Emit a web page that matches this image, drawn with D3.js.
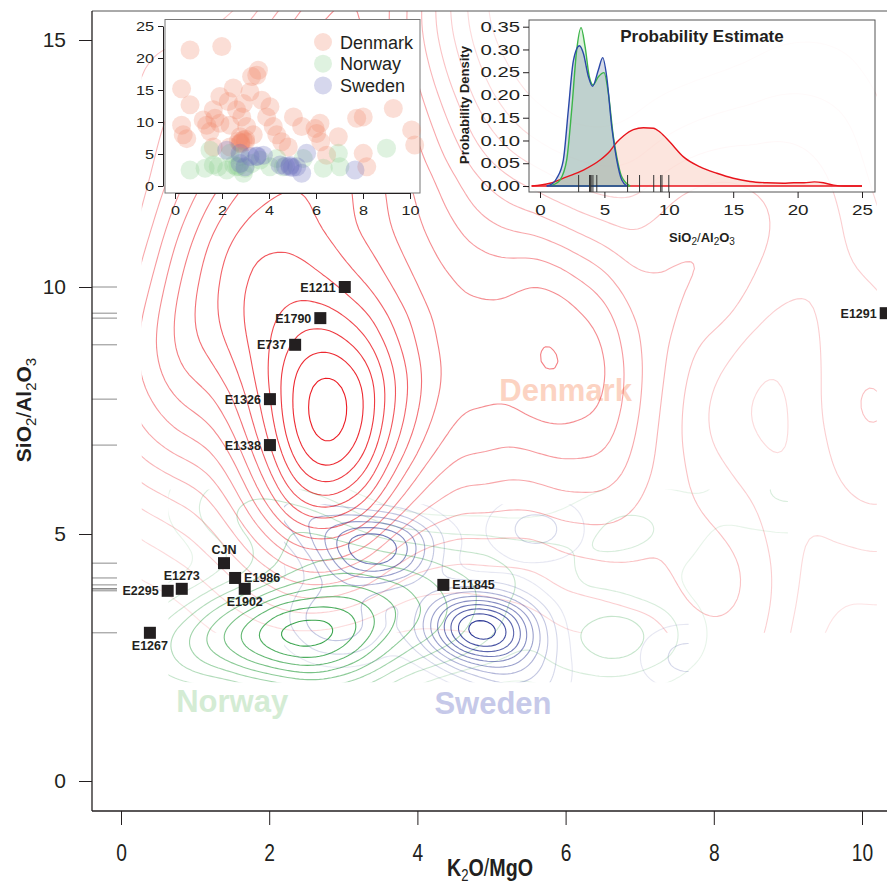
<!DOCTYPE html>
<html>
<head>
<meta charset="utf-8">
<script src="https://cdn.jsdelivr.net/npm/d3@7"></script>
<style>
  body { margin: 0; background: #fff; }
  svg { display: block; font-family: "Liberation Sans", Arial, sans-serif; }
</style>
</head>
<body>
<svg id="chart" width="887" height="887"></svg>
<script>
// ---- data (K2O/MgO vs SiO2/Al2O3) ----
var denmarkK = [0.64, 1.99, 0.28, 0.64, 0.28, 0.35, 0.5, 1.91, 2.48, 2.27, 3.26, 3.55, 3.48, 3.19,
    3.69, 4.04, 3.9, 2.84, 3.05, 2.34, 1.91, 1.35, 1.2, 1.7, 1.49, 2.77, 3.33, 4.18,
    4.33, 4.54, 5.04, 5.39, 5.96, 6.03, 6.17, 6.95, 6.45, 6.2, 7.73, 8.01, 9.29, 10.07,
    10.2, 8.01, 8.16, 1.63, 2.34, 2.77, 4.82, 1.63, 2.91, 2.62, 2.8, 3.0, 2.7, 2.9, 2.8, 3.0];
var denmarkS = [21.25, 21.8, 15.2, 12.7, 9.5, 8.0, 7.4, 14.0, 15.3, 13.2, 17.1, 18.1, 17.3, 14.7,
    13.4, 12.4, 10.8, 10.8, 9.3, 9.5, 9.8, 9.5, 10.3, 10.6, 8.5, 7.7, 8.0, 9.3,
    8.0, 6.9, 10.8, 9.3, 9.0, 8.2, 9.8, 7.7, 4.8, 6.9, 10.6, 10.8, 12.1, 8.75,
    6.4, 5.1, 3.0, 6.1, 6.1, 6.7, 6.1, 11.9, 12.9, 11.9, 6.8, 6.9, 7.0, 7.2, 6.6, 7.3];
var norwayK = [0.64, 1.28, 1.63, 1.84, 2.2, 2.62, 2.91, 2.98, 2.34, 2.77, 3.26, 3.62, 4.04, 4.33,
    4.61, 5.46, 6.31, 6.95, 7.02, 9.0, 1.49, 2.5, 2.7];
var norwayS = [2.5, 2.76, 3.3, 3.0, 2.5, 3.0, 2.0, 2.76, 5.1, 4.6, 3.5, 4.06, 3.0, 4.3,
    3.0, 4.3, 2.76, 5.1, 3.0, 5.9, 5.6, 3.3, 3.1];
var swedenK = [2.2, 2.77, 2.98, 3.48, 3.76, 3.19, 4.47, 4.89, 5.18, 5.39, 5.6, 7.66, 2.77, 4.7, 5.0, 4.9, 3.5];
var swedenS = [5.6, 3.5, 3.0, 4.6, 4.8, 4.6, 3.3, 3.0, 3.0, 2.0, 5.1, 2.5, 5.1, 3.1, 2.9, 3.2, 4.7];

var sampleNames = ["E1211", "E1790", "E737", "E1326", "E1338", "CJN", "E1986", "E1902", "E1273", "E2295", "E1267", "E11845", "E1291"];
var sampleK = [3.02, 2.69, 2.35, 2.01, 2.01, 1.39, 1.54, 1.67, 0.82, 0.63, 0.39, 4.35, 10.32];
var sampleS = [10.0, 9.37, 8.83, 7.73, 6.80, 4.41, 4.11, 3.89, 3.89, 3.85, 3.0, 3.97, 9.47];

// probability density of SiO2/Al2O3
var denmarkDensX = [-0.65, 0.78, 2.07, 3.37, 4.66, 5.44, 5.96, 6.48, 7.25, 8.03, 8.81, 9.33, 10.1, 11.14,
    12.43, 13.73, 15.0, 16.3, 17.6, 18.9, 19.7, 20.5, 21.3, 22.0, 22.8, 23.6, 25];
var denmarkDensY = [0, 0.006, 0.02, 0.035, 0.057, 0.077, 0.096, 0.11, 0.124, 0.128, 0.127, 0.118, 0.096, 0.064,
    0.042, 0.028, 0.017, 0.01, 0.007, 0.006, 0.007, 0.007, 0.009, 0.007, 0.002, 0, 0];
var norwayDensX = [0.78, 1.2, 1.55, 2.07, 2.46, 2.85, 3.19, 3.5, 3.83, 4.12, 4.53, 4.97, 5.31, 5.7, 5.96, 6.35, 7.0];
var norwayDensY = [0, 0.005, 0.013, 0.057, 0.167, 0.299, 0.348, 0.306, 0.24, 0.222, 0.24, 0.249, 0.203, 0.108, 0.064, 0.02, 0];
var swedenDensX = [0.52, 1.0, 1.3, 1.81, 2.2, 2.59, 3.06, 3.37, 3.76, 4.08, 4.53, 4.87, 5.18, 5.57, 5.96, 6.35, 6.74];
var swedenDensY = [0, 0.006, 0.017, 0.057, 0.167, 0.275, 0.308, 0.291, 0.24, 0.219, 0.255, 0.282, 0.24, 0.13, 0.057, 0.013, 0];

var mainTicksX = [0, 2, 4, 6, 8, 10];
var mainTicksY = [0, 5, 10, 15];
var scatTicksX = [0, 2, 4, 6, 8, 10];
var scatTicksY = [0, 5, 10, 15, 20, 25];
var densTicksX = [0, 5, 10, 15, 20, 25];
var densTicksY = [0, 0.05, 0.1, 0.15, 0.2, 0.25, 0.3, 0.35];
var countries = ["Denmark", "Norway", "Sweden"];

// ---- setup ----
var svg = d3.select("#chart");
var defs = svg.append("defs");
var ink = "#231f20";
var plotL = 92, plotT = 11, plotR = 887, plotB = 811;

var x = d3.scaleLinear().domain([0, 10]).range([121, 862]);
var y = d3.scaleLinear().domain([0, 15]).range([781, 40]);

defs.append("clipPath").attr("id", "plotClip").append("rect")
    .attr("x", plotL).attr("y", plotT).attr("width", plotR - plotL).attr("height", plotB - plotT);

var plotG = svg.append("g").attr("clip-path", "url(#plotClip)");

// big country labels (behind contours)
var bigLabels = [
    {name: "Denmark", k: 6.0, s: 7.7, color: "#fcd3c2"},
    {name: "Norway", k: 1.5, s: 1.4, color: "#d4ecd4"},
    {name: "Sweden", k: 5.02, s: 1.35, color: "#c6c9e9"}
];
plotG.selectAll("text.big").data(bigLabels).join("text")
    .attr("class", "big")
    .attr("x", function (d) { return x(d.k); })
    .attr("y", function (d) { return y(d.s); })
    .attr("text-anchor", "middle")
    .style("font-size", "31px").style("font-weight", "bold")
    .style("fill", function (d) { return d.color; })
    .text(function (d) { return d.name; });

// 2-d density contours, kernel wider along one axis (bwx / bwy in pixels)
var pad = 300;
function drawContours(ks, ss, color, bwx, bwy, levels, gamma, id) {
    var f = bwx / bwy;
    var ox = plotL - pad, oy = plotT - pad;
    var pts = d3.range(ks.length).map(function (i) { return [x(ks[i]), y(ss[i])]; });
    var gen = d3.contourDensity()
        .x(function (d) { return d[0] - ox; })
        .y(function (d) { return (d[1] - oy) * f; })
        .size([plotR - plotL + 2 * pad, Math.ceil((plotB - plotT + 2 * pad) * f)])
        .bandwidth(bwx);
    // first pass for the peak, then levels below it (closer together near zero)
    var peak = d3.max(gen.thresholds(80)(pts), function (c) { return c.value; });
    var dens = gen.thresholds(d3.range(1, levels + 1).map(function (i) {
        return peak * Math.pow(i / (levels + 0.4), gamma);
    }))(pts);
    var ek = d3.extent(ks), es = d3.extent(ss);
    defs.append("clipPath").attr("id", id).append("rect")
        .attr("x", x(ek[0])).attr("y", y(es[1]))
        .attr("width", x(ek[1]) - x(ek[0])).attr("height", y(es[0]) - y(es[1]));
    var n = dens.length;
    plotG.append("g").attr("clip-path", "url(#" + id + ")")
        .append("g").attr("transform", "translate(" + ox + "," + oy + ") scale(1," + (1 / f) + ")")
        .selectAll("path").data(dens).join("path")
        .attr("d", d3.geoPath())
        .attr("fill", "none")
        .attr("stroke", color)
        .attr("stroke-width", 1.1)
        .attr("vector-effect", "non-scaling-stroke")
        .attr("stroke-opacity", function (d, i) { return 0.12 + 0.88 * Math.pow(i / Math.max(1, n - 1), 1.1); });
}
drawContours(denmarkK, denmarkS, "#ec1c24", 46, 76, 16, 1.35, "clipDK");
drawContours(norwayK, norwayS, "#3aa54e", 44, 30, 10, 1.15, "clipNO");
drawContours(swedenK, swedenS, "#2e3a96", 32, 22, 10, 1.1, "clipSE");

// rug of sample values on the left
plotG.append("g").selectAll("line").data(sampleS).join("line")
    .attr("x1", plotL).attr("x2", plotL + 25)
    .attr("y1", function (d) { return y(d); }).attr("y2", function (d) { return y(d); })
    .attr("stroke", "#666").attr("stroke-opacity", 0.75).attr("stroke-width", 1);

// sample squares and names
var side = {CJN: "top", E1273: "top", E1986: "right", E11845: "right", E1902: "bottom", E1267: "bottom"};
var samples = d3.range(sampleNames.length).map(function (i) {
    return {name: sampleNames[i], k: sampleK[i], s: sampleS[i], side: side[sampleNames[i]] || "left"};
});
var sg = plotG.append("g");
sg.selectAll("rect").data(samples).join("rect")
    .attr("x", function (d) { return x(d.k) - 6; })
    .attr("y", function (d) { return y(d.s) - 6; })
    .attr("width", 12).attr("height", 12)
    .attr("fill", ink);
sg.selectAll("text").data(samples).join("text")
    .attr("x", function (d) {
        if (d.side === "left") return x(d.k) - 9;
        if (d.side === "right") return x(d.k) + 9;
        return x(d.k);
    })
    .attr("y", function (d) {
        if (d.side === "top") return y(d.s) - 9;
        if (d.side === "bottom") return y(d.s) + 17;
        return y(d.s) + 4.5;
    })
    .attr("text-anchor", function (d) {
        return d.side === "left" ? "end" : d.side === "right" ? "start" : "middle";
    })
    .style("font-size", "12.5px").style("font-weight", "bold").style("fill", ink)
    .text(function (d) { return d.name; });

// frame + main axes
var frame = svg.append("g").attr("stroke", ink).attr("stroke-width", 1.3);
frame.append("line").attr("x1", plotL).attr("x2", plotR).attr("y1", plotT).attr("y2", plotT).attr("stroke", "#555").attr("stroke-width", 1);
frame.append("line").attr("x1", plotL).attr("x2", plotL).attr("y1", plotT).attr("y2", plotB);
frame.append("line").attr("x1", plotL).attr("x2", plotR).attr("y1", plotB).attr("y2", plotB);

var xAxis = svg.append("g").attr("transform", "translate(0," + plotB + ")")
    .call(d3.axisBottom(x).tickValues(mainTicksX).tickSize(14).tickPadding(19));
var yAxis = svg.append("g").attr("transform", "translate(" + plotL + ",0)")
    .call(d3.axisLeft(y).tickValues(mainTicksY).tickSize(13).tickPadding(13));
[xAxis, yAxis].forEach(function (a) {
    a.select(".domain").remove();
    a.selectAll("line").attr("stroke", ink);
    a.selectAll("text").attr("fill", ink).style("font-size", "21px").style("font-family", "Liberation Sans, Arial, sans-serif");
});
// the x labels of the reference are set in a condensed face
xAxis.selectAll("text").style("font-size", "24px").attr("transform", "scale(0.8,1)");

// chemical formula text with subscripts
function chem(sel, parts, subSize, shift) {
    var down = false;
    parts.forEach(function (p) {
        var t = sel.append("tspan").text(p[0]);
        if (p[1] === "sub") {
            t.style("font-size", subSize).style("font-weight", "normal");
            if (!down) { t.attr("dy", shift); down = true; }
        } else {
            if (down) { t.attr("dy", -shift); down = false; }
            if (p[1] === "thin") t.style("font-weight", "normal");
        }
    });
}
var xTitle = svg.append("g").attr("transform", "translate(490,876) scale(0.82,1)")
    .append("text").attr("text-anchor", "middle")
    .style("font-size", "24px").style("font-weight", "bold").style("fill", ink);
chem(xTitle, [["K"], ["2", "sub"], ["O"], ["/", "thin"], ["MgO"]], "16px", 5);
var yTitle = svg.append("text").attr("transform", "translate(31,410) rotate(-90)").attr("text-anchor", "middle")
    .style("font-size", "21px").style("font-weight", "bold").style("fill", ink);
chem(yTitle, [["SiO"], ["2", "sub"], ["/", "thin"], ["Al"], ["2", "sub"], ["O"], ["3", "sub"]], "15px", 5);

// ---- inset: scatter ----
var sx = d3.scaleLinear().domain([0, 10]).range([175, 410]);
var sy = d3.scaleLinear().domain([0, 25]).range([186, 26]);
var scat = svg.append("g");
scat.append("rect").attr("x", 165).attr("y", 19.5).attr("width", 255).attr("height", 173.5)
    .attr("fill", "#fff").attr("stroke", "#777").attr("stroke-width", 1);
var scatColors = {Denmark: "#f08a6c", Norway: "#8ccf8e", Sweden: "#6a70c0"};
var groups = [
    {name: "Denmark", k: denmarkK, s: denmarkS},
    {name: "Norway", k: norwayK, s: norwayS},
    {name: "Sweden", k: swedenK, s: swedenS}
];
groups.forEach(function (g) {
    scat.append("g").selectAll("circle").data(d3.range(g.k.length)).join("circle")
        .attr("cx", function (i) { return sx(g.k[i]); })
        .attr("cy", function (i) { return sy(g.s[i]); })
        .attr("r", 9.5)
        .attr("fill", scatColors[g.name]).attr("fill-opacity", 0.28);
});
var sxAxis = scat.append("g").attr("transform", "translate(0,193)")
    .call(d3.axisBottom(sx).tickValues(scatTicksX).tickSize(6).tickSizeOuter(0).tickPadding(7));
var syAxis = scat.append("g").attr("transform", "translate(163,0)")
    .call(d3.axisLeft(sy).tickValues(scatTicksY).tickSize(5).tickSizeOuter(0).tickPadding(4));
[sxAxis, syAxis].forEach(function (a) {
    a.selectAll("path,line").attr("stroke", ink);
    a.selectAll("text").attr("fill", ink).style("font-size", "13px").style("font-family", "Liberation Sans, Arial, sans-serif");
});
sxAxis.selectAll("text").attr("transform", "scale(1.25,1)");
syAxis.selectAll("text").attr("transform", "scale(1.25,1)").attr("x", -9 / 1.25);
var leg = scat.append("g");
leg.selectAll("circle").data(countries).join("circle")
    .attr("cx", 323).attr("cy", function (d, i) { return 42 + i * 21.7; }).attr("r", 9)
    .attr("fill", function (d) { return scatColors[d]; }).attr("fill-opacity", 0.28);
leg.selectAll("text").data(countries).join("text")
    .attr("x", 340).attr("y", function (d, i) { return 48.5 + i * 21.7; })
    .style("font-size", "18px").style("fill", ink)
    .text(function (d) { return d; });

// ---- inset: probability density ----
var dx = d3.scaleLinear().domain([0, 25]).range([540, 862]);
var dy = d3.scaleLinear().domain([0, 0.35]).range([186, 26.7]);
var dens = svg.append("g");
dens.append("rect").attr("x", 529).attr("y", 20).attr("width", 346).attr("height", 172)
    .attr("fill", "#fff").attr("fill-opacity", 0.85).attr("stroke", "#555").attr("stroke-width", 1);
var curves = [
    {name: "Denmark", xs: denmarkDensX, ys: denmarkDensY, line: "#e8141c", fill: "rgba(246,160,135,0.28)"},
    {name: "Norway", xs: norwayDensX, ys: norwayDensY, line: "#3db54a", fill: "rgba(160,215,160,0.35)"},
    {name: "Sweden", xs: swedenDensX, ys: swedenDensY, line: "#2a48a8", fill: "rgba(120,135,170,0.3)"}
];
var area = d3.area()
    .x(function (d) { return dx(d[0]); })
    .y0(dy(0))
    .y1(function (d) { return dy(d[1]); })
    .curve(d3.curveMonotoneX);
var densLine = d3.line()
    .x(function (d) { return dx(d[0]); })
    .y(function (d) { return dy(d[1]); })
    .curve(d3.curveMonotoneX);
curves.forEach(function (c) {
    var pts = c.xs.map(function (v, i) { return [v, c.ys[i]]; });
    dens.append("path").attr("d", area(pts)).attr("fill", c.fill).attr("stroke", "none");
});
curves.forEach(function (c) {
    var pts = c.xs.map(function (v, i) { return [v, c.ys[i]]; });
    dens.append("path").attr("d", densLine(pts)).attr("fill", "none").attr("stroke", c.line).attr("stroke-width", 1.4);
    dens.append("line").attr("x1", dx(c.xs[0])).attr("x2", dx(c.xs[c.xs.length - 1]))
        .attr("y1", dy(0)).attr("y2", dy(0)).attr("stroke", c.line).attr("stroke-width", 1.6);
});
dens.append("g").selectAll("line").data(sampleS).join("line")
    .attr("x1", function (d) { return dx(d); }).attr("x2", function (d) { return dx(d); })
    .attr("y1", 192).attr("y2", 175)
    .attr("stroke", "#333").attr("stroke-width", 1);
var dxAxis = dens.append("g").attr("transform", "translate(0,192)")
    .call(d3.axisBottom(dx).tickValues(densTicksX).tickSize(6).tickSizeOuter(0).tickPadding(7));
var dyAxis = dens.append("g").attr("transform", "translate(529,0)")
    .call(d3.axisLeft(dy).tickValues(densTicksY).tickFormat(d3.format(".2f")).tickSize(6).tickSizeOuter(0).tickPadding(3));
[dxAxis, dyAxis].forEach(function (a) {
    a.select(".domain").remove();
    a.selectAll("line").attr("stroke", ink);
    a.selectAll("text").attr("fill", ink).style("font-size", "14.5px").style("font-family", "Liberation Sans, Arial, sans-serif");
});
dxAxis.selectAll("text").attr("transform", "scale(1.3,1)");
dyAxis.selectAll("text").attr("transform", "scale(1.4,1)").attr("x", -9 / 1.4);
dens.append("text").attr("x", 702).attr("y", 42).attr("text-anchor", "middle")
    .style("font-size", "17px").style("font-weight", "bold").style("fill", ink)
    .text("Probability Estimate");
var dTitle = dens.append("text").attr("x", 702).attr("y", 242).attr("text-anchor", "middle")
    .style("font-size", "13px").style("font-weight", "bold").style("fill", ink);
chem(dTitle, [["SiO"], ["2", "sub"], ["/", "thin"], ["Al"], ["2", "sub"], ["O"], ["3", "sub"]], "10px", 3);
dens.append("text").attr("transform", "translate(469,105) rotate(-90)").attr("text-anchor", "middle")
    .style("font-size", "13px").style("font-weight", "bold").style("fill", ink)
    .text("Probability Density");
</script>
</body>
</html>
